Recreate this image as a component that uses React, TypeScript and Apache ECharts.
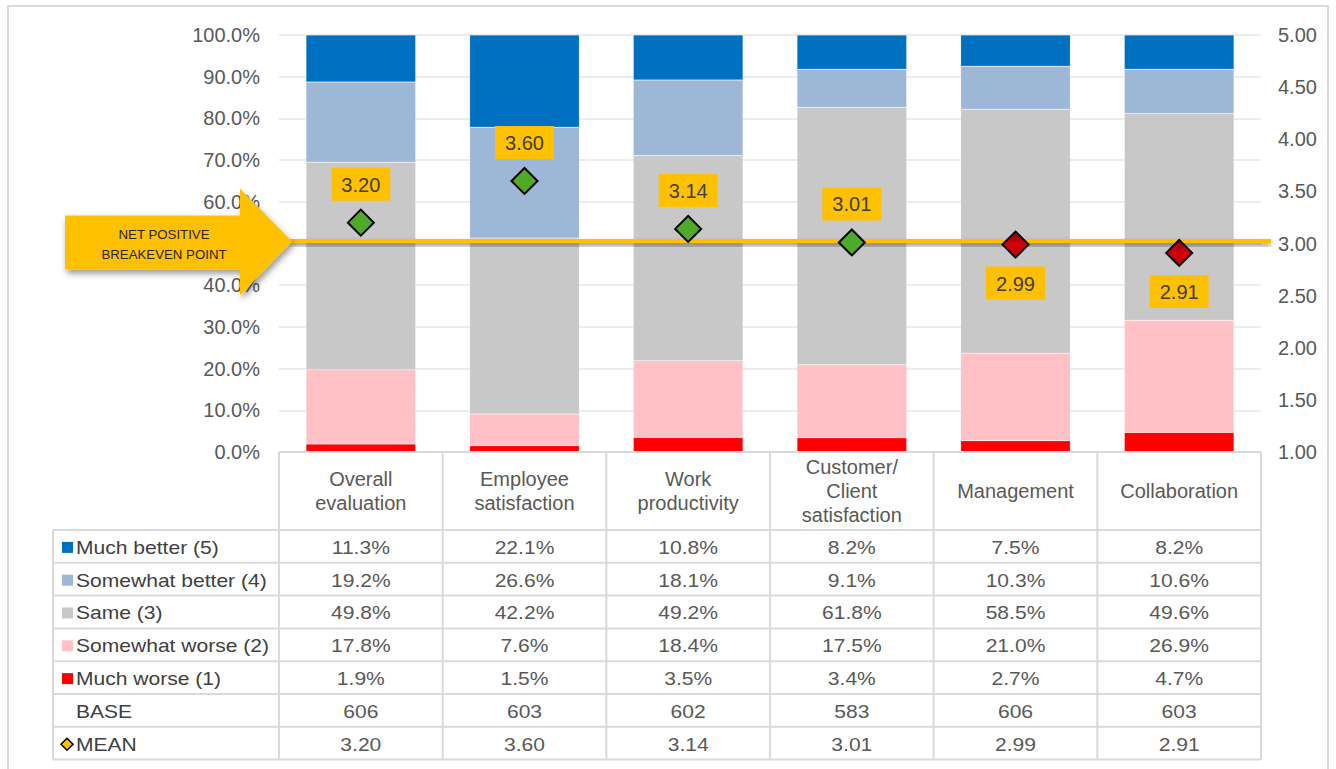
import React, { useEffect, useRef } from "react";
import * as echarts from "echarts";

const categories = ["Overall\nevaluation", "Employee\nsatisfaction", "Work\nproductivity", "Customer/\nClient\nsatisfaction", "Management", "Collaboration"];
const muchBetter = [11.3, 22.1, 10.8, 8.2, 7.5, 8.2];
const somewhatBetter = [19.2, 26.6, 18.1, 9.1, 10.3, 10.6];
const same = [49.8, 42.2, 49.2, 61.8, 58.5, 49.6];
const somewhatWorse = [17.8, 7.6, 18.4, 17.5, 21.0, 26.9];
const muchWorse = [1.9, 1.5, 3.5, 3.4, 2.7, 4.7];
const baseCounts = [606, 603, 602, 583, 606, 603];
const means = [3.2, 3.6, 3.14, 3.01, 2.99, 2.91];
const breakeven = 3.0;
const seriesNames = ["Much better (5)", "Somewhat better (4)", "Same (3)", "Somewhat worse (2)", "Much worse (1)"];
const breakevenText = "NET POSITIVE\nBREAKEVEN POINT";

const COLORS = ["#0070C0", "#9DB7D6", "#C8C8C8", "#FFC0C6", "#FF0000"];
const FONT = "Liberation Sans, Arial, sans-serif";
const TXT = "#595959";
const LINE = "#D9D9D9";
const SX = 1.17;

const GL = 279, GR = 1261, GT = 35, GB = 452;
const HEADER_BOTTOM = 530;
const ROW_H = 32.8;
const TABLE_LEFT = 53;

export default function App() {
  const ref = useRef<HTMLDivElement>(null);
  useEffect(() => {
    if (!ref.current) return;
    const chart = echarts.init(ref.current, null, { renderer: "svg" });
    const tableRows: { name: string; values: string[]; color?: string; mean?: boolean }[] = [
      { name: seriesNames[0], values: muchBetter.map((v) => v.toFixed(1) + "%"), color: COLORS[0] },
      { name: seriesNames[1], values: somewhatBetter.map((v) => v.toFixed(1) + "%"), color: COLORS[1] },
      { name: seriesNames[2], values: same.map((v) => v.toFixed(1) + "%"), color: COLORS[2] },
      { name: seriesNames[3], values: somewhatWorse.map((v) => v.toFixed(1) + "%"), color: COLORS[3] },
      { name: seriesNames[4], values: muchWorse.map((v) => v.toFixed(1) + "%"), color: COLORS[4] },
      { name: "BASE", values: baseCounts.map((v) => String(v)) },
      { name: "MEAN", values: means.map((v) => v.toFixed(2)), mean: true },
    ];
    const stackData = [muchWorse, somewhatWorse, same, somewhatBetter, muchBetter];
    const stackIdx = [4, 3, 2, 1, 0];
    const option: any = {
      animation: false,
      textStyle: { fontFamily: FONT },
      grid: { left: GL, right: 1336 - GR, top: GT, bottom: 769 - GB, containLabel: false },
      xAxis: {
        type: "category",
        data: categories,
        axisLine: { show: false },
        axisTick: { show: false },
        axisLabel: {
          interval: 0,
          fontSize: 20,
          lineHeight: 24,
          color: TXT,
          verticalAlign: "middle",
          margin: 39,
          fontFamily: FONT,
        },
      },
      yAxis: [
        {
          type: "value",
          min: 0,
          max: 100,
          interval: 10,
          axisLine: { show: false },
          axisTick: { show: false },
          splitLine: { lineStyle: { color: "#E6E6E6", width: 1.5 } },
          axisLabel: { formatter: (v: number) => v.toFixed(1) + "%", fontSize: 20, color: TXT, margin: 19, fontFamily: FONT },
        },
        {
          type: "value",
          min: 1,
          max: 5,
          interval: 0.5,
          axisLine: { show: false },
          axisTick: { show: false },
          splitLine: { show: false },
          axisLabel: { formatter: (v: number) => v.toFixed(2), fontSize: 20, color: TXT, margin: 17, fontFamily: FONT },
        },
      ],
      series: [
        ...stackData.map((d, i) => ({
          type: "bar",
          name: seriesNames[stackIdx[i]],
          stack: "total",
          data: d,
          barWidth: "67%",
          itemStyle: { color: COLORS[stackIdx[i]], borderColor: "rgba(255,255,255,0.35)", borderWidth: 0.5 },
          z: 2,
        })),
        {
          type: "scatter",
          name: "MEAN",
          yAxisIndex: 1,
          symbol: "diamond",
          symbolSize: 26,
          z: 20,
          data: means.map((m) => ({
            value: m,
            itemStyle: {
              color: m >= breakeven ? "#4FAA2A" : {
                type: "linear", x: 0, y: 0, x2: 0, y2: 1,
                colorStops: [{ offset: 0, color: "#8A0000" }, { offset: 0.5, color: "#D4000E" }, { offset: 1, color: "#BC000A" }],
              },
              borderColor: "#000",
              borderWidth: 2,
              opacity: 1,
            },
            label: {
              show: true,
              position: m >= breakeven ? "top" : "bottom",
              distance: 8,
              formatter: (p: any) => Number(p.value).toFixed(2),
              backgroundColor: "#FFC000",
              padding: [7, 10, 6, 10],
              fontSize: 20,
              color: "#404040",
              fontFamily: FONT,
            },
          })),
        },
      ],
    };
    chart.setOption(option);

    const yBreak = chart.convertToPixel({ yAxisIndex: 1 }, breakeven) as number;
    const colW = (GR - GL) / categories.length;
    const tableBottom = HEADER_BOTTOM + ROW_H * tableRows.length;
    const g: any[] = [];
    // outer frame
    g.push({ type: "rect", shape: { x: 8, y: 6, width: 1320, height: 800 }, style: { fill: "none", stroke: LINE, lineWidth: 2 }, z: 0 });
    // table lines
    const lineStyle = { stroke: LINE, lineWidth: 2 };
    g.push({ type: "line", shape: { x1: GL, y1: GB, x2: GR, y2: GB }, style: lineStyle, z: 5 });
    for (let r = 0; r <= tableRows.length; r++) {
      const y = HEADER_BOTTOM + r * ROW_H;
      g.push({ type: "line", shape: { x1: TABLE_LEFT, y1: y, x2: GR, y2: y }, style: lineStyle, z: 5 });
    }
    g.push({ type: "line", shape: { x1: TABLE_LEFT, y1: HEADER_BOTTOM, x2: TABLE_LEFT, y2: tableBottom }, style: lineStyle, z: 5 });
    for (let c = 0; c <= categories.length; c++) {
      const x = GL + c * colW;
      g.push({ type: "line", shape: { x1: x, y1: GB, x2: x, y2: tableBottom }, style: lineStyle, z: 5 });
    }
    // table rows
    tableRows.forEach((row, r) => {
      const cy = HEADER_BOTTOM + r * ROW_H + ROW_H / 2 + 1;
      if (row.color) {
        g.push({ type: "rect", shape: { x: 62, y: cy - 5.5, width: 11, height: 11 }, style: { fill: row.color }, z: 6 });
      }
      if (row.mean) {
        g.push({ type: "polygon", shape: { points: [[67, cy - 6], [73, cy], [67, cy + 6], [61, cy]] }, style: { fill: "#FFC000", stroke: "#000", lineWidth: 1.5 }, z: 6 });
      }
      g.push({ type: "text", x: 76, y: cy, scaleX: SX, style: { text: row.name, fontSize: 18, fill: "#404040", fontFamily: FONT, verticalAlign: "middle", align: "left" }, z: 6 });
      row.values.forEach((v, c) => {
        g.push({ type: "text", x: GL + colW * (c + 0.5), y: cy, scaleX: SX, style: { text: v, fontSize: 18, fill: TXT, fontFamily: FONT, verticalAlign: "middle", align: "center" }, z: 6 });
      });
    });
    // breakeven line (rect so the shadow filter works)
    g.push({
      type: "rect",
      shape: { x: 290, y: yBreak - 4.5, width: 981, height: 4 },
      style: { fill: "#FFC000", shadowBlur: 5, shadowOffsetY: 3, shadowColor: "rgba(0,0,0,0.45)" },
      z: 15,
    });
    // arrow
    g.push({
      type: "polygon",
      shape: {
        points: [
          [65, yBreak - 28], [240, yBreak - 28], [240, yBreak - 55], [292, yBreak - 2],
          [240, yBreak + 52], [240, yBreak + 26], [65, yBreak + 26],
        ],
      },
      style: { fill: "#FFC000", shadowBlur: 6, shadowOffsetX: 2, shadowOffsetY: 4, shadowColor: "rgba(0,0,0,0.4)" },
      z: 16,
    });
    g.push({
      type: "text",
      x: 164,
      y: yBreak + 1,
      scaleX: 1.06,
      style: { text: breakevenText, fontSize: 12.5, lineHeight: 20, fill: "#262626", fontFamily: FONT, align: "center", verticalAlign: "middle" },
      z: 17,
    });
    chart.setOption({ graphic: g });
    return () => chart.dispose();
  }, []);
  return <div ref={ref} style={{ position: "fixed", left: 0, top: 0, width: 1336, height: 769, background: "#fff" }} />;
}
